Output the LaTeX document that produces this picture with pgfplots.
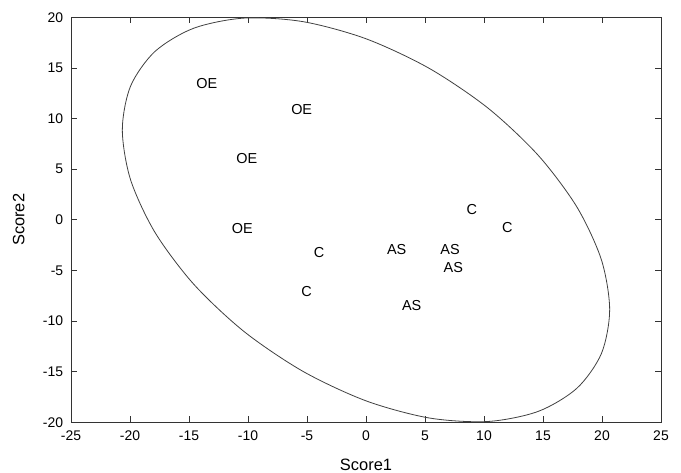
\documentclass[border=0pt]{standalone}
\usepackage{pgfplots}
\pgfplotsset{compat=1.18}
\usepackage{fontspec}
\setmainfont{Liberation Sans}
\begin{document}
\fontsize{14}{17}\selectfont
\begin{tikzpicture}
\begin{axis}[
  name=ax,
  scale only axis,
  width=590bp, height=405bp,
  xmin=-25, xmax=25, ymin=-20, ymax=20,
  xtick distance=5, ytick distance=5,
  tick align=inside,
  major tick length=6bp,
  axis line style={black!80, line width=0.8bp},
  every tick/.style={black!80, line width=0.8bp},
  /pgf/number format/assume math mode=true,
  tick label style={font=\fontsize{14}{17}\selectfont},
  xticklabel style={yshift=-4bp},
  yticklabel style={xshift=-3bp},
  xlabel={Score1}, ylabel={Score2},
  label style={font=\fontsize{16.5}{19}\selectfont},
  xlabel style={yshift=-9bp},
  ylabel style={yshift=9bp},
  clip=false,
]
% confidence ellipse, points
\addplot[black!75, line width=0.8bp, smooth cycle, mark=none] coordinates {
(20.65,-8.88) (19.95,-3.95) (17.88,1.25) (14.60,6.36) (10.33,11.04) (5.34,14.97)
(0,17.88) (-5.34,19.57) (-10.33,19.92) (-14.60,18.92) (-17.88,16.63) (-19.95,13.21)
(-20.65,8.88) (-19.95,3.95) (-17.88,-1.25) (-14.60,-6.36) (-10.33,-11.04) (-5.34,-14.97)
(0,-17.88) (5.34,-19.57) (10.33,-19.92) (14.60,-18.92) (17.88,-16.63) (19.95,-13.21)
};
\addplot[draw=none, mark=none, nodes near coords={\pgfplotspointmeta},
  point meta=explicit symbolic,
  every node near coord/.style={anchor=center, inner sep=0pt, font=\fontsize{14.5}{17}\selectfont}]
  table[meta=label] {
x y label
-13.50 13.41 OE
-5.45 10.91 OE
-10.11 6.10 OE
-10.48 -0.88 OE
-3.98 -3.25 C
-5.03 -7.13 C
2.60 -2.98 AS
7.12 -2.98 AS
7.40 -4.69 AS
3.87 -8.51 AS
8.96 1.04 C
11.97 -0.81 C
};
\end{axis}
\pgfresetboundingbox
\path ([shift={(-71bp,-50.7bp)}]ax.south west) rectangle ([shift={(20bp,17.3bp)}]ax.north east);
\end{tikzpicture}
\end{document}
